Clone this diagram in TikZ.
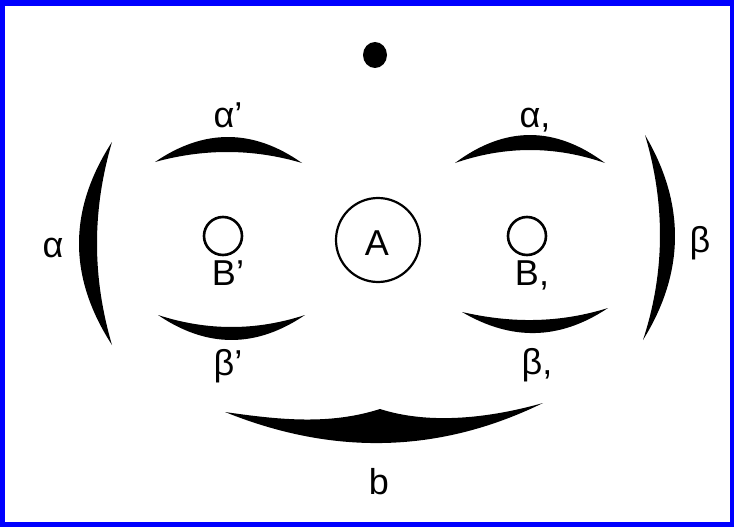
\documentclass[tikz,border=0pt]{standalone}
\usepackage{fontspec}
\setmainfont{Liberation Sans}
\begin{document}
\begin{tikzpicture}[x = 1pt, y = -1pt, lbl/.style = {font = \fontsize{36}{40}\selectfont, inner sep = 0, anchor = base}, ring/.style = {draw, circle, line width = 2.6pt, inner sep = 0}]
	% frame
	\fill[blue] (0,0) rectangle (734,527);
	\fill[white] (5,6) rectangle (730,522);
	% dot on top
	\fill (375,55) ellipse [x radius = 12, y radius = 13];
	% upper lenses
	\fill (155,162) .. controls (204,128.5) and (253,128.5) .. (302,163) .. controls (253,148.5) and (204,148.5) .. cycle;
	\fill (455,163) .. controls (505,125.7) and (555,125.7) .. (605,163) .. controls (555,145.7) and (505,145.7) .. cycle;
	% lower lenses
	\fill (158,315) .. controls (207,348.3) and (256,348.3) .. (305,315) .. controls (256,331) and (207,331) .. cycle;
	\fill (462,312) .. controls (511,340.7) and (559,340.7) .. (608,308) .. controls (559,323.3) and (511,323.3) .. cycle;
	% side brackets
	\fill (112,142) .. controls (68,210) and (68,277) .. (112,345) .. controls (92,277) and (92,210) .. cycle;
	\fill (645,135) .. controls (685.3,203) and (685.3,272) .. (643,340) .. controls (665.3,272) and (665.3,203) .. cycle;
	% bottom bow
	\fill (225,412) .. controls (331,454.8) and (437,454.8) .. (543,403) .. controls (490,418) and (430,425) .. (380,409) .. controls (330,425) and (280,420) .. cycle;
	% circles
	\node[ring, minimum size = 38pt] (Bl) at (223,236) {};
	\node[ring, minimum size = 38pt] (Br) at (527,236) {};
	\node[ring, line width = 2.2pt, minimum size = 84pt] (A) at (378,240) {};
	% labels
	\node[lbl] (lA) at (377,255) {A};
	\node[lbl] (la1) at (228,127) {α'};
	\node[lbl] (la2) at (535,128) {α,};
	\node[lbl] (la) at (53,257) {α};
	\node[lbl] (lb) at (700,252) {β};
	\node[lbl] (lB1) at (228,285) {B'};
	\node[lbl] (lB2) at (532,285) {B,};
	\node[lbl] (lb1) at (228,375) {β'};
	\node[lbl] (lb2) at (537,374) {β,};
	\node[lbl] (lbow) at (379,494) {b};
\end{tikzpicture}
\end{document}
